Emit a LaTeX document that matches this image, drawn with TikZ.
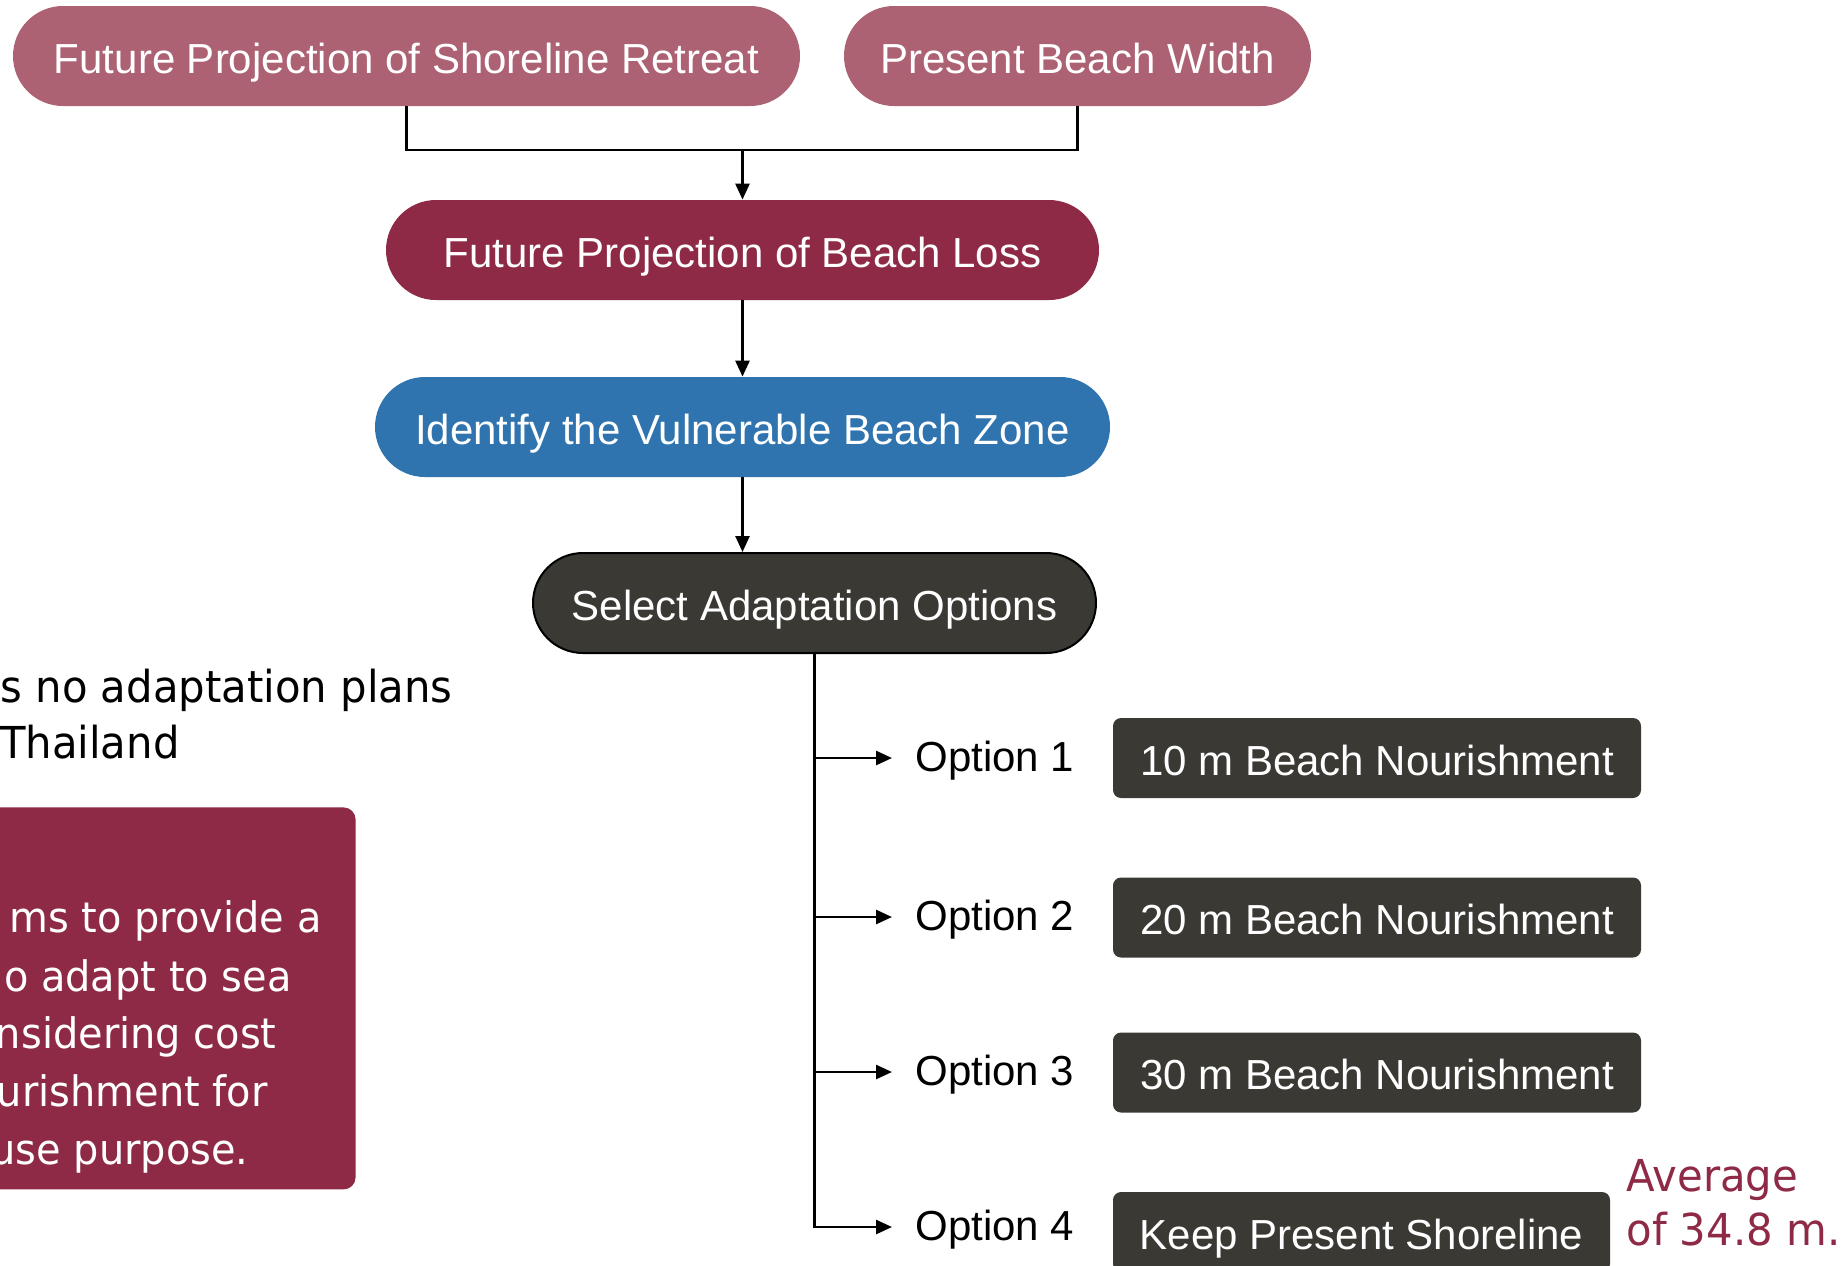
\documentclass[tikz,border=0pt]{standalone}
\usepackage{fontspec}
\setmainfont{Liberation Sans}
\newfontfamily\tah[FakeStretch=0.95]{DejaVu Sans}
\usetikzlibrary{arrows.meta,calc}
\definecolor{rosec}{RGB}{173,98,116}
\definecolor{maroonc}{RGB}{142,42,69}
\definecolor{bluec}{RGB}{47,116,175}
\definecolor{darkc}{RGB}{58,57,52}
\begin{document}
\begin{tikzpicture}[x=0.5pt,y=-0.5pt,
  pill/.style={rounded corners=25pt, minimum height=50pt, inner sep=0pt, text=white, text height=17pt, text depth=0pt, font=\fontsize{21}{25}\selectfont},
  optbox/.style={rounded corners=4pt, fill=darkc, minimum height=40pt, inner sep=0pt, text=white, text height=17pt, text depth=0pt, font=\fontsize{21}{25}\selectfont},
  optlabel/.style={anchor=west, inner sep=0pt, text height=13pt, text depth=0pt, font=\fontsize{21}{25}\selectfont},
  conn/.style={line width=1.3pt},
  arr/.style={conn, -{Triangle[length=8pt,width=7pt]}},
  tahtext/.style={inner sep=0pt, font=\tah\fontsize{22}{28}\selectfont},
  boxtext/.style={anchor=base east, inner sep=0pt, text=white, font=\tah\fontsize{21}{28}\selectfont}]
\useasboundingbox (0,0) rectangle (1847,1265);
\clip (0,0) rectangle (1847,1265);
\fill[white] (0,0) rectangle (1847,1265);

% top flow
\node[pill, fill=rosec, minimum width=393.5pt] (A) at (406.5,56) {Future Projection of Shoreline Retreat};
\node[pill, fill=rosec, minimum width=233.5pt] (B) at (1077.5,56) {Present Beach Width};
\node[pill, fill=maroonc, minimum width=356.5pt] (C) at (742.5,250) {Future Projection of Beach Loss};
\node[pill, fill=bluec, minimum width=367.5pt] (D) at (742.5,427) {Identify the Vulnerable Beach Zone};
\node[pill, fill=darkc, draw=black, line width=1pt, minimum width=281.5pt] (E) at (814.5,603) {Select Adaptation Options};

\coordinate (J) at (742.5,150);
\draw[conn] (A.south) -- (A.south |- J) -- (B.south |- J) -- (B.south);
\draw[arr] (J) -- (C.north);
\draw[arr] (C.south) -- (D.north);
\draw[arr] (D.south) -- (D.south |- E.north);

% options
\node[optlabel] (L1) at (915,758) {Option 1};
\node[optlabel] (L2) at (915,917) {Option 2};
\node[optlabel] (L3) at (915,1072) {Option 3};
\node[optlabel] (L4) at (915,1227) {Option 4};

\node[optbox, minimum width=264pt] (O1) at (1377,758) {10 m Beach Nourishment};
\node[optbox, minimum width=264pt] (O2) at (1377,917.5) {20 m Beach Nourishment};
\node[optbox, minimum width=264pt] (O3) at (1377,1072.5) {30 m Beach Nourishment};
\node[optbox, minimum width=248.5pt] (O4) at (1361.5,1232) {Keep Present Shoreline};

\draw[arr] (E.south) -- (E.south |- L4.west) -- ([xshift=-11.5pt]L4.west);
\draw[arr] (E.south |- L1.west) -- ([xshift=-11.5pt]L1.west);
\draw[arr] (E.south |- L2.west) -- ([xshift=-11.5pt]L2.west);
\draw[arr] (E.south |- L3.west) -- ([xshift=-11.5pt]L3.west);

\node[tahtext, anchor=base west, text=maroonc] (av1) at (1626,1191) {Average};
\node[tahtext, anchor=base west, text=maroonc] (av2) at (1626,1245) {of 34.8 m.};

% left side (cut off at the picture's edge, as in the reference)
\node[tahtext, anchor=base east] (t1) at (453,702) {s no adaptation plans};
\node[tahtext, anchor=base east] (t2) at (180,758) {Thailand};

\node[fill=maroonc, rounded corners=6pt, anchor=north east, inner sep=0pt, minimum width=200pt, minimum height=191pt] (LB) at (356,807) {};
\node[boxtext] (b1) at (322,932) {ms to provide a};
\node[boxtext] (b2) at (292,991) {o adapt to sea};
\node[boxtext] (b3) at (277,1048) {nsidering cost};
\node[boxtext] (b4) at (268,1106) {urishment for};
\node[boxtext] (b5) at (249,1164) {use purpose.};
\end{tikzpicture}
\end{document}
